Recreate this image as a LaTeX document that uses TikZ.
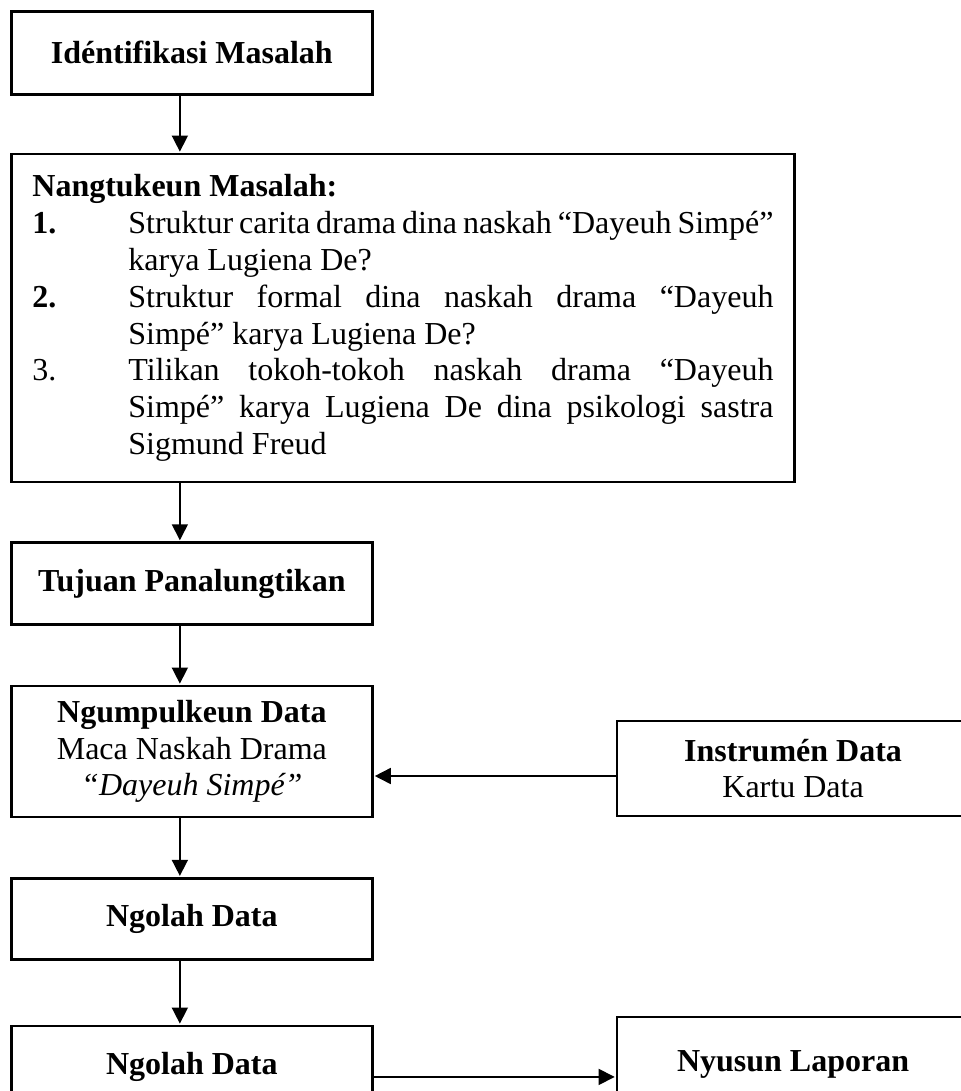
\documentclass[tikz,border=0pt]{standalone}
\usepackage{fontspec}
\setmainfont{Liberation Serif}
\usetikzlibrary{arrows.meta, positioning}

\begin{document}
\begin{tikzpicture}[x=0.375pt, y=-0.375pt, node distance=22pt, >={Triangle[length=6pt, width=6pt]},
  font=\fontsize{12}{13.8}\selectfont,
  box/.style={draw, line width=1pt, align=center, minimum width=135.4pt, minimum height=30.75pt, inner sep=2pt},
  arr/.style={->, line width=0.6pt, shorten >=0.4pt}]
\useasboundingbox (0,0) rectangle (961,1091);
\clip (0,0) rectangle (961,1091);
\node[box, anchor=north west, minimum height=31.1pt] (ident) at (10,10) {\textbf{Idéntifikasi Masalah}};
\node[draw, line width=1pt, text width=277.9pt, inner xsep=7.9pt, minimum height=123pt, align=justify, below=21.4pt of ident.south west, anchor=north west] (masalah) {%
\noindent\textbf{Nangtukeun Masalah:}\par
\noindent\hangindent=36pt\hangafter=1\makebox[36pt][l]{\textbf{1.}}Struktur carita drama dina naskah “Dayeuh Simpé”\linebreak karya Lugiena De?\par
\noindent\hangindent=36pt\hangafter=1\makebox[36pt][l]{\textbf{2.}}Struktur formal dina naskah drama “Dayeuh\linebreak Simpé” karya Lugiena De?\par
\noindent\hangindent=36pt\hangafter=1\makebox[36pt][l]{3.}Tilikan tokoh-tokoh naskah drama “Dayeuh\linebreak Simpé” karya Lugiena De dina psikologi sastra\linebreak Sigmund Freud\par
\vspace{4.5pt}};
\node[box, below=21.75pt of masalah.south west, anchor=north west] (tujuan) {\textbf{Tujuan Panalungtikan}};
\node[box, minimum height=49.1pt, below=of tujuan] (kumpul) {\textbf{Ngumpulkeun Data}\\Maca Naskah Drama\\\textit{“Dayeuh Simpé”}};
\node[box, minimum width=132pt, minimum height=35.6pt, right=90.75pt of kumpul, yshift=-6.4pt] (instr) {\textbf{Instrumén Data}\\Kartu Data};
\node[box, minimum height=30.4pt, below=of kumpul] (olah) {\textbf{Ngolah Data}};
\node[box, minimum height=30.4pt, below=24pt of olah] (olahdua) {\textbf{Ngolah Data}};
\node[box, minimum width=132pt, minimum height=35.6pt, right=90.75pt of olahdua, yshift=0.75pt] (nyusun) {\textbf{Nyusun Laporan}};
\draw[arr] ([xshift=-4.5pt]ident.south) -- ([xshift=-4.5pt]ident.south |- masalah.north);
\draw[arr] ([xshift=-4.5pt]tujuan.north |- masalah.south) -- ([xshift=-4.5pt]tujuan.north);
\draw[arr] ([xshift=-4.5pt]tujuan.south) -- ([xshift=-4.5pt]kumpul.north);
\draw[arr] ([xshift=-4.5pt]kumpul.south) -- ([xshift=-4.5pt]olah.north);
\draw[arr] ([xshift=-4.5pt]olah.south) -- ([xshift=-4.5pt]olahdua.north);
\draw[arr] ([yshift=-2.8pt]instr.west) -- ([yshift=-2.8pt]instr.west -| kumpul.east);
\draw[arr] ([yshift=-3.9pt]olahdua.east) -- ([yshift=-3.9pt]olahdua.east -| nyusun.west);
\end{tikzpicture}
\end{document}
